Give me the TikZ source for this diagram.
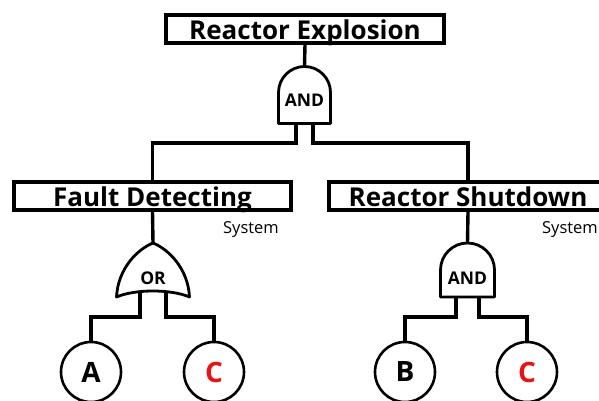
\documentclass[tikz,border=0pt]{standalone}
\usepackage{fontspec}
\setmainfont{Open Sans}
\usetikzlibrary{positioning, calc}
\definecolor{evtred}{RGB}{230, 20, 20}

\tikzset{
  event/.style={draw, line width=3.6pt, minimum height=28pt, minimum width=277pt, inner sep=0pt, text height=24.5pt, text depth=3.5pt, font=\fontsize{26}{28}\selectfont\bfseries},
  gate/.style={inner sep=0pt, font=\fontsize{17.5}{19}\selectfont\bfseries},
  gateline/.style={line width=2.8pt, line join=round},
  link/.style={line width=3.4pt},
  basic/.style={draw, circle, line width=2.6pt, minimum size=60pt, inner sep=0pt, font=\fontsize{28}{30}\selectfont\bfseries},
  syslabel/.style={inner sep=0pt, anchor=base east, font=\fontsize{16.5}{18}\selectfont}
}

\begin{document}
\begin{tikzpicture}[x=1pt, y=1pt]
  \useasboundingbox (0,0) rectangle (599,401);

  % top event
  \node[event, minimum width=278pt] (top) at (305,372) {Reactor Explosion};
  \node[gate, minimum width=52pt, minimum height=57pt] (andtop) at (304.5,306) {};
  \node[gate] (andtoptxt) at ($(andtop.center)+(0,-5)$) {AND};
  \draw[gateline, shift={(andtop.center)}] (-26,-28.5) -- (-26,2.5)
    arc[start angle=180, end angle=0, radius=26] -- (26,-28.5) -- cycle;
  \draw[link] (top.south) -- (andtop.north);

  % intermediate events
  \node[event] (fd) at (152.5,205) {Fault Detecting};
  \node[event, minimum width=278pt] (rs) at (468,205) {Reactor Shutdown};
  \node[syslabel] (fdsys) at (279,167) {System};
  \node[syslabel] (rssys) at (598,167) {System};
  \draw[link] ($(andtop.south)+(-8.5,0)$) -- ++(0,-19.5) -| (fd.north);
  \draw[link] ($(andtop.south)+(8.5,0)$) -- ++(0,-19.5) -| (rs.north);

  % gates below
  \node[gate, minimum width=73pt, minimum height=54pt] (orfd) at (153,131) {};
  \node[gate] (orfdtxt) at ($(orfd.center)+(0,-8)$) {OR};
  \draw[gateline, shift={(orfd.center)}] (-36.5,-27)
    .. controls (-35,2) and (-15,21) .. (0,27)
    .. controls (15,21) and (35,2) .. (36.5,-27)
    .. controls (18,-19) and (-18,-19) .. cycle;
  \draw[link] (fd.south) -- (orfd.north);

  \node[gate, minimum width=54pt, minimum height=54pt] (andrs) at (467.5,131) {};
  \node[gate] (andrstxt) at ($(andrs.center)+(0,-8)$) {AND};
  \draw[gateline, shift={(andrs.center)}] (-27,-27) -- (-27,0)
    arc[start angle=180, end angle=0, radius=27] -- (27,-27) -- cycle;
  \draw[link] (rs.south) -- (andrs.north);

  % basic events
  \node[basic] (a) at (91,29) {A};
  \node[basic, text=evtred] (c1) at (214,29) {C};
  \node[basic] (b) at (405,29) {B};
  \node[basic, text=evtred] (c2) at (527,29) {C};

  \draw[link] ($(orfd.south)+(-13,5)$) -- ++(0,-25) -| (a.north);
  \draw[link] ($(orfd.south)+(13,5)$) -- ++(0,-25) -| (c1.north);
  \draw[link] ($(andrs.south)+(-11.5,0)$) -- ++(0,-20) -| (b.north);
  \draw[link] ($(andrs.south)+(11.5,0)$) -- ++(0,-20) -| (c2.north);
\end{tikzpicture}
\end{document}
